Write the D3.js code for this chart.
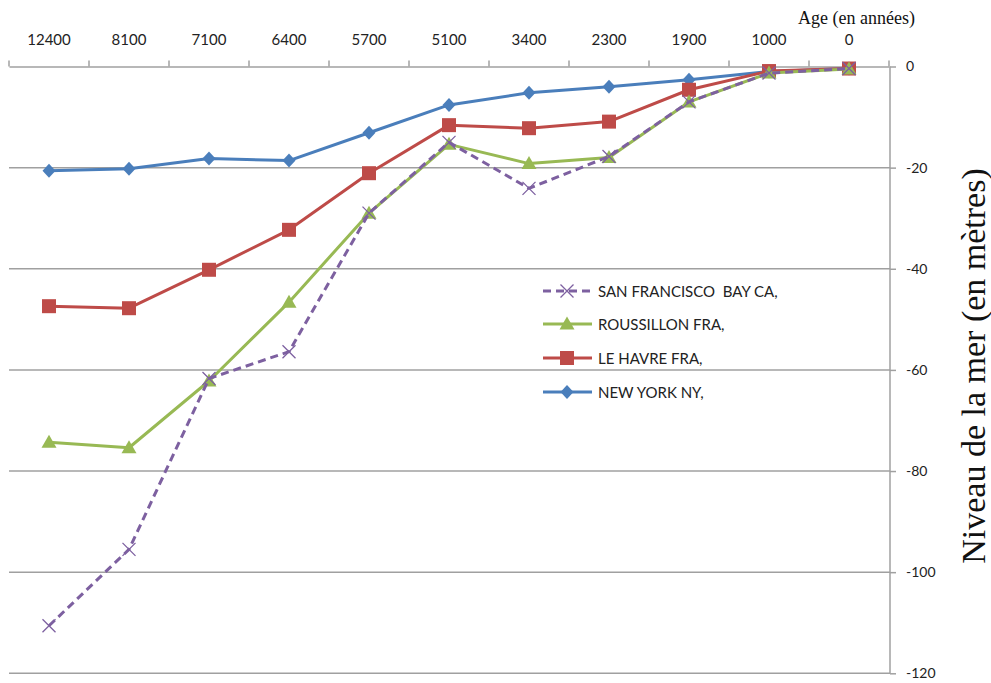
<!DOCTYPE html>
<html>
<head>
<meta charset="utf-8">
<script src="https://cdn.jsdelivr.net/npm/d3@7"></script>
<style>
  html, body { margin: 0; padding: 0; background: #fff; }
  svg { display: block; }
</style>
</head>
<body>
<svg id="chart" width="991" height="683"></svg>
<script>
// Ages (years before present), left to right
const categories = ["12400", "8100", "7100", "6400", "5700", "5100", "3400", "2300", "1900", "1000", "0"];

// Sea level (m) per site
const newYork     = [-20.6, -20.2, -18.2, -18.6, -13.1, -7.6, -5.2, -4.0, -2.6, -1.0, -0.4];
const leHavre     = [-47.4, -47.8, -40.2, -32.3, -21.1, -11.6, -12.2, -10.9, -4.6, -0.9, -0.4];
const roussillon  = [-74.3, -75.4, -62.2, -46.6, -29.0, -15.4, -19.2, -18.0, -7.0, -1.3, -0.5];
const sanFrancisco = [-110.6, -95.5, -61.7, -56.4, -29.0, -15.0, -24.1, -17.8, -7.0, -1.3, -0.4];

const yTicks = [0, -20, -40, -60, -80, -100, -120];

const seriesNames = ["NEW YORK NY,", "LE HAVRE FRA,", "ROUSSILLON FRA,", "SAN FRANCISCO  BAY CA,"];

const series = [
  { name: seriesNames[0], values: newYork,      color: "#4a7ebb", marker: "diamond", dash: null },
  { name: seriesNames[1], values: leHavre,      color: "#be4b48", marker: "square",  dash: null },
  { name: seriesNames[2], values: roussillon,   color: "#98b954", marker: "triangle", dash: null },
  { name: seriesNames[3], values: sanFrancisco, color: "#7d60a0", marker: "cross",   dash: "8,5" }
];

const svg = d3.select("#chart");
const labelFont = "Lato, 'Open Sans', sans-serif";
const serifFont = "'Liberation Serif', 'Times New Roman', serif";
const gridColor = "#a0a0a0";

const x = d3.scaleBand().domain(categories).range([9, 889]);
const cx = c => x(c) + x.bandwidth() / 2;
const y = d3.scaleLinear().domain([-120, 0]).range([673.3, 66.5]);

// Horizontal gridlines
svg.append("g").selectAll("line")
  .data(yTicks.filter(t => t !== 0))
  .join("line")
  .attr("x1", 9).attr("x2", 890)
  .attr("y1", d => y(d)).attr("y2", d => y(d))
  .attr("stroke", gridColor).attr("stroke-width", 1.5);

// Category axis along the top (value 0)
const xAxis = svg.append("g").attr("transform", `translate(0,${y(0)})`)
  .call(d3.axisTop(x).tickSize(0).tickPadding(22));
xAxis.select(".domain").attr("stroke", gridColor).attr("stroke-width", 1.5);
xAxis.selectAll("text")
  .attr("font-family", labelFont).attr("font-size", 15).attr("fill", "#222");
// Tick marks between categories
const boundaries = categories.map(c => x(c)).concat([x.range()[1]]);
xAxis.selectAll("line.sep").data(boundaries).join("line")
  .attr("class", "sep")
  .attr("x1", d => d).attr("x2", d => d)
  .attr("y1", 0).attr("y2", -6)
  .attr("stroke", gridColor).attr("stroke-width", 1.5);

// Value axis on the right
const yAxis = svg.append("g").attr("transform", "translate(890,0)")
  .call(d3.axisRight(y).tickValues(yTicks).tickSize(6).tickPadding(10).tickFormat(d => String(d)));
yAxis.select(".domain").attr("stroke", gridColor).attr("stroke-width", 1.5)
  .attr("d", `M0,${y(0)}V${y(-120)}`);
yAxis.selectAll(".tick line").attr("stroke", gridColor).attr("stroke-width", 1.5);
yAxis.selectAll("text")
  .attr("font-family", labelFont).attr("font-size", 14).attr("fill", "#222");

// Axis titles
svg.append("text")
  .attr("x", 915).attr("y", 24)
  .attr("text-anchor", "end")
  .attr("font-family", serifFont).attr("font-size", 18).attr("fill", "#111")
  .text("Age (en années)");

svg.append("text")
  .attr("transform", "translate(985,366) rotate(-90)")
  .attr("text-anchor", "middle")
  .attr("font-family", serifFont).attr("font-size", 34).attr("fill", "#111")
  .text("Niveau de la mer (en mètres)");

// Marker shapes
function drawMarker(g, type, color, px, py) {
  if (type === "diamond") {
    g.append("path").attr("d", `M${px},${py-7}L${px+6.5},${py}L${px},${py+7}L${px-6.5},${py}Z`).attr("fill", color);
  } else if (type === "square") {
    g.append("rect").attr("x", px - 7).attr("y", py - 7).attr("width", 14).attr("height", 14).attr("fill", color);
  } else if (type === "triangle") {
    g.append("path").attr("d", `M${px},${py-7.5}L${px+7.5},${py+5.5}L${px-7.5},${py+5.5}Z`).attr("fill", color);
  } else if (type === "cross") {
    g.append("path").attr("d", `M${px-6.5},${py-6.5}L${px+6.5},${py+6.5}M${px-6.5},${py+6.5}L${px+6.5},${py-6.5}`)
      .attr("stroke", color).attr("stroke-width", 1.3).attr("fill", "none");
  }
}

const line = d3.line().x((d, i) => cx(categories[i])).y(d => y(d));

const plot = svg.append("g");
series.forEach(s => {
  const g = plot.append("g");
  g.append("path").datum(s.values)
    .attr("d", line)
    .attr("fill", "none")
    .attr("stroke", s.color).attr("stroke-width", 3)
    .attr("stroke-linejoin", "round")
    .attr("stroke-dasharray", s.dash);
  s.values.forEach((v, i) => drawMarker(g, s.marker, s.color, cx(categories[i]), y(v)));
});

// Legend (listed top to bottom in reverse series order)
const legendRows = series.slice().reverse();
const legendY = [291, 324, 358, 392];
const legend = svg.append("g");
legendRows.forEach((s, i) => {
  const ly = legendY[i];
  const g = legend.append("g");
  g.append("line").attr("x1", 543).attr("x2", 592).attr("y1", ly).attr("y2", ly)
    .attr("stroke", s.color).attr("stroke-width", 3).attr("stroke-dasharray", s.dash);
  drawMarker(g, s.marker, s.color, 567, ly);
  g.append("text").attr("x", 598).attr("y", ly + 5.5)
    .attr("font-family", labelFont).attr("font-size", 15).attr("fill", "#222")
    .style("white-space", "pre")
    .text(s.name);
});
</script>
</body>
</html>
